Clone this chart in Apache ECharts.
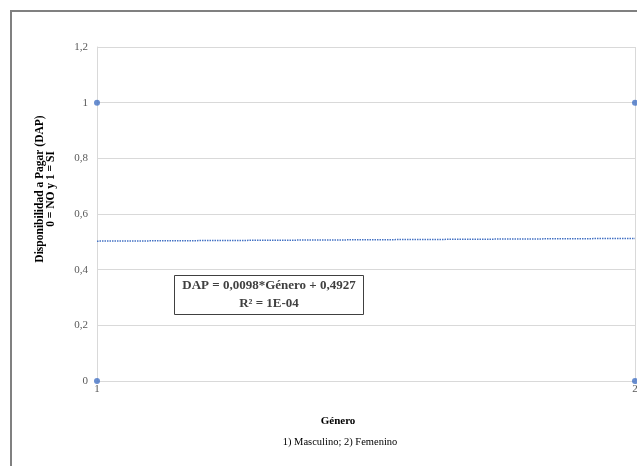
<!DOCTYPE html>
<html><head><meta charset="utf-8">
<script src="https://cdn.jsdelivr.net/npm/echarts@6/dist/echarts.min.js"></script>
<style>html,body{margin:0;padding:0;background:#fff}#c{width:637px;height:466px}</style>
</head><body><div id="c"></div>
<script>
const genero = [1, 1, 2, 2];
const dap = [1, 0, 1, 0];
const trendX = [1, 2];
const trendY = [0.5025, 0.5123];
const yTicks = [0, 0.2, 0.4, 0.6, 0.8, 1, 1.2];
const xTicks = [1, 2];
const eqLine1 = 'DAP = 0,0098*Género + 0,4927';
const eqLine2 = 'R² = 1E-04';
const yTitle1 = 'Disponibilidad a Pagar (DAP)';
const yTitle2 = '0 = NO y 1 = SI';
const xTitle = 'Género';
const xSub = '1) Masculino; 2) Femenino';

const chart = echarts.init(document.getElementById('c'));
const serif = '"Liberation Serif", "DejaVu Serif", serif';
chart.setOption({
  animation: false,
  grid: {left: 97, right: 2, top: 47, bottom: 85, outerBoundsMode: 'none', containLabel: false},
  xAxis: {
    type: 'value', min: xTicks[0], max: xTicks[xTicks.length - 1], interval: 1,
    axisLine: {show: true, lineStyle: {color: '#d9d9d9'}},
    axisTick: {show: false},
    splitLine: {show: true, lineStyle: {color: '#d9d9d9'}},
    axisLabel: {color: '#595959', fontFamily: serif, fontSize: 11, margin: 3,
      formatter: v => String(v)}
  },
  yAxis: {
    type: 'value', min: yTicks[0], max: yTicks[yTicks.length - 1], interval: 0.2,
    axisLine: {show: true, lineStyle: {color: '#d9d9d9'}},
    axisTick: {show: false},
    splitLine: {show: true, lineStyle: {color: '#d9d9d9'}},
    axisLabel: {color: '#595959', fontFamily: serif, fontSize: 11, margin: 9,
      formatter: v => String(Math.round(v * 10) / 10).replace('.', ',')}
  },
  series: [
    {type: 'scatter', data: genero.map((g, i) => [g, dap[i]]), symbolSize: 6,
      itemStyle: {color: '#4472C4'}, z: 5},
    {type: 'line', data: trendX.map((x, i) => [x, trendY[i]]), symbol: 'none',
      lineStyle: {color: '#4472C4', width: 1.5, type: [1.5, 1]}}
  ],
  graphic: [
    {type: 'rect', shape: {x: 11, y: 11, width: 640, height: 470},
      style: {fill: 'none', stroke: '#808080', lineWidth: 2}, silent: true},
    {type: 'rect', shape: {x: 174.5, y: 275.5, width: 189, height: 39},
      style: {fill: '#fff', stroke: '#404040', lineWidth: 1}, z: 10},
    {type: 'text', x: 269, y: 286, z: 11, style: {text: eqLine1, fill: '#404040',
      font: 'bold 13px ' + serif, align: 'center', verticalAlign: 'middle'}},
    {type: 'text', x: 269, y: 304, z: 11, style: {text: eqLine2, fill: '#404040',
      font: 'bold 13px ' + serif, align: 'center', verticalAlign: 'middle'}},
    {type: 'text', x: 40.5, y: 189, rotation: Math.PI / 2, style: {text: yTitle1, fill: '#000',
      font: 'bold 11.5px ' + serif, align: 'center', verticalAlign: 'middle'}},
    {type: 'text', x: 51, y: 189, rotation: Math.PI / 2, style: {text: yTitle2, fill: '#000',
      font: 'bold 11.5px ' + serif, align: 'center', verticalAlign: 'middle'}},
    {type: 'text', x: 338, y: 421, style: {text: xTitle, fill: '#000',
      font: 'bold 11px ' + serif, align: 'center', verticalAlign: 'middle'}},
    {type: 'text', x: 340, y: 442, style: {text: xSub, fill: '#000',
      font: '10.5px ' + serif, align: 'center', verticalAlign: 'middle'}}
  ]
});
</script></body></html>
